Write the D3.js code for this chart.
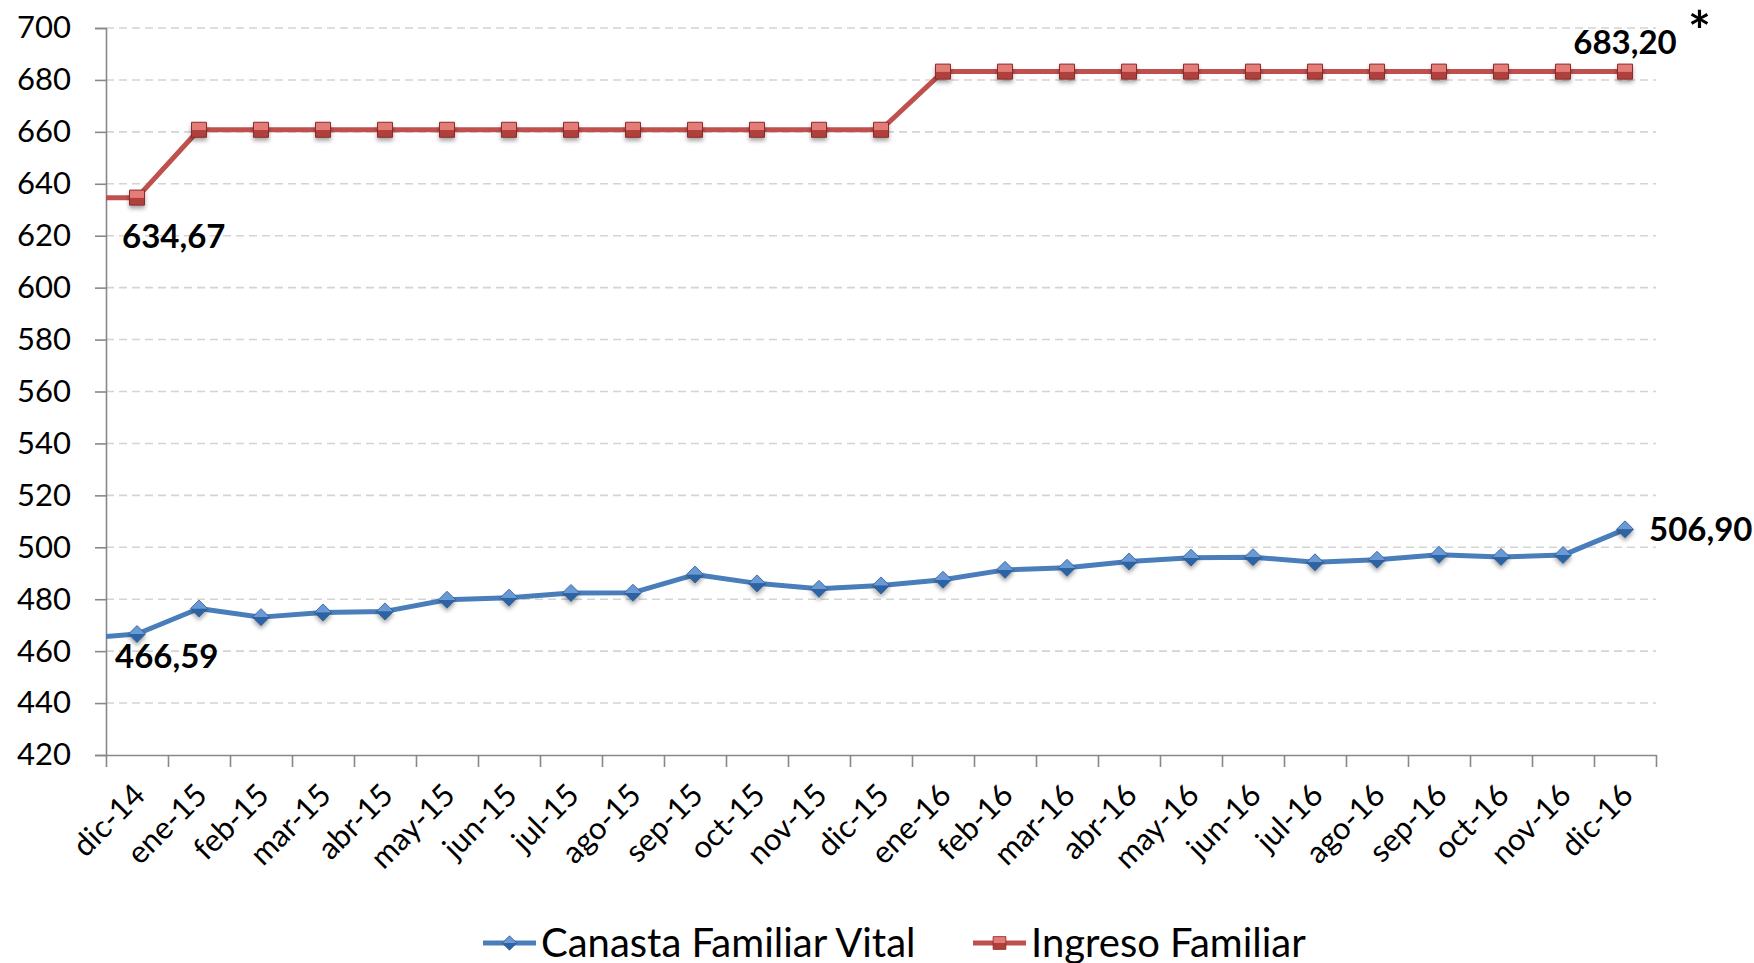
<!DOCTYPE html>
<html>
<head>
<meta charset="utf-8">
<script src="https://cdn.jsdelivr.net/npm/d3@7"></script>
<style>
  html, body { margin: 0; padding: 0; background: #fff; }
  svg { display: block; font-family: Lato, "Open Sans", sans-serif; }
</style>
</head>
<body>
<svg id="chart" width="1754" height="963"></svg>
<script>
// months on the category axis
var months = ["dic-14", "ene-15", "feb-15", "mar-15", "abr-15", "may-15", "jun-15", "jul-15",
    "ago-15", "sep-15", "oct-15", "nov-15", "dic-15", "ene-16", "feb-16", "mar-16", "abr-16",
    "may-16", "jun-16", "jul-16", "ago-16", "sep-16", "oct-16", "nov-16", "dic-16"];

var canasta = [466.59, 476.4, 473.1, 474.9, 475.3, 479.8, 480.6, 482.4, 482.5, 489.5, 486.1, 484.0,
    485.3, 487.5, 491.3, 492.1, 494.5, 496.0, 496.2, 494.2, 495.2, 497.1, 496.3, 497.0, 506.90];

var ingreso = [634.67, 660.80, 660.80, 660.80, 660.80, 660.80, 660.80, 660.80, 660.80, 660.80,
    660.80, 660.80, 660.80, 683.20, 683.20, 683.20, 683.20, 683.20, 683.20, 683.20, 683.20,
    683.20, 683.20, 683.20, 683.20];

// value of the month before dic-14, the line comes in from the left edge
var canastaPrev = 464.7;
var ingresoPrev = 634.67;

var yTicks = [420, 440, 460, 480, 500, 520, 540, 560, 580, 600, 620, 640, 660, 680, 700];
var seriesNames = ["Canasta Familiar Vital", "Ingreso Familiar"];

(function () {
    var svg = d3.select("#chart");
    var plotLeft = 106, plotRight = 1656, plotTop = 28, plotBottom = 755;

    var x = d3.scaleLinear().domain([-0.5, months.length - 0.5]).range([plotLeft, plotRight]);
    var y = d3.scaleLinear().domain([420, 700]).range([plotBottom, plotTop]);

    var locale = d3.formatLocale({decimal: ",", thousands: ".", grouping: [3], currency: ["", ""]});
    var fmt = locale.format(".2f");

    var defs = svg.append("defs");
    defs.append("clipPath").attr("id", "plotclip")
        .append("rect").attr("x", plotLeft).attr("y", 0).attr("width", plotRight - plotLeft).attr("height", 963);

    var shadow = defs.append("filter").attr("id", "shadow")
        .attr("x", "-50%").attr("y", "-50%").attr("width", "200%").attr("height", "220%");
    shadow.append("feDropShadow").attr("dx", 0).attr("dy", 3).attr("stdDeviation", 2)
        .attr("flood-color", "#000").attr("flood-opacity", 0.35);

    function grad(id, c1, c2) {
        var g = defs.append("linearGradient").attr("id", id)
            .attr("x1", 0).attr("y1", 0).attr("x2", 0).attr("y2", 1);
        g.append("stop").attr("offset", "0%").attr("stop-color", c1);
        g.append("stop").attr("offset", "49%").attr("stop-color", c1);
        g.append("stop").attr("offset", "51%").attr("stop-color", c2);
        g.append("stop").attr("offset", "100%").attr("stop-color", c2);
    }
    grad("blueGrad", "#6a9ad6", "#2f63a3");
    grad("redGrad", "#e47b78", "#b03f3b");

    // gridlines
    svg.append("g").selectAll("line").data(yTicks.slice(1)).enter().append("line")
        .attr("x1", plotLeft).attr("x2", plotRight)
        .attr("y1", function(d) { return y(d); }).attr("y2", function(d) { return y(d); })
        .attr("stroke", "#d4d4d4").attr("stroke-width", 1.6).attr("stroke-dasharray", "8,5");

    // y axis
    var yAxis = svg.append("g").attr("transform", "translate(" + plotLeft + ",0)")
        .call(d3.axisLeft(y).tickValues(yTicks).tickSize(11).tickPadding(24));
    yAxis.select(".domain").attr("stroke", "#888").attr("stroke-width", 1.6);
    yAxis.selectAll(".tick line").attr("stroke", "#888").attr("stroke-width", 1.6);
    yAxis.selectAll(".tick text").attr("font-size", 31).attr("fill", "#000")
        .attr("font-family", "Lato");

    // x axis, ticks between categories
    var bounds = d3.range(months.length + 1).map(function(i) { return i - 0.5; });
    var xAxis = svg.append("g").attr("transform", "translate(0," + plotBottom + ")")
        .call(d3.axisBottom(x).tickValues(bounds).tickSize(12).tickSizeOuter(0).tickFormat(""));
    xAxis.select(".domain").attr("stroke", "#888").attr("stroke-width", 1.6);
    xAxis.selectAll(".tick line").attr("stroke", "#888").attr("stroke-width", 1.6);

    svg.append("g").selectAll("text").data(months).enter().append("text")
        .attr("transform", function(d, i) { return "translate(" + (x(i) + 10) + "," + (plotBottom + 42) + ") rotate(-45)"; })
        .attr("text-anchor", "end").attr("font-size", 31).attr("fill", "#000")
        .text(function(d) { return d; });

    // lines
    var line = d3.line().x(function(d) { return x(d.i); }).y(function(d) { return y(d.v); });

    function pts(arr, prev) {
        var out = [{i: -1, v: prev}];
        arr.forEach(function(v, i) { out.push({i: i, v: v}); });
        return out;
    }

    var plot = svg.append("g").attr("clip-path", "url(#plotclip)");
    plot.append("path").attr("d", line(pts(ingreso, ingresoPrev)))
        .attr("fill", "none").attr("stroke", "#c0504d").attr("stroke-width", 5).attr("stroke-linejoin", "round");
    plot.append("path").attr("d", line(pts(canasta, canastaPrev)))
        .attr("fill", "none").attr("stroke", "#4a7ebb").attr("stroke-width", 5).attr("stroke-linejoin", "round");

    var diamond = "M0,-8.5L8.5,0L0,8.5L-8.5,0Z";
    var square = "M-7.5,-7.5H7.5V7.5H-7.5Z";

    svg.append("g").selectAll("path").data(ingreso).enter().append("path")
        .attr("d", square)
        .attr("transform", function(d, i) { return "translate(" + x(i) + "," + y(d) + ")"; })
        .attr("fill", "url(#redGrad)").attr("stroke", "#8c2c29").attr("stroke-width", 1)
        .attr("filter", "url(#shadow)");

    svg.append("g").selectAll("path").data(canasta).enter().append("path")
        .attr("d", diamond)
        .attr("transform", function(d, i) { return "translate(" + x(i) + "," + y(d) + ")"; })
        .attr("fill", "url(#blueGrad)").attr("stroke", "#2a5a94").attr("stroke-width", 0.8)
        .attr("filter", "url(#shadow)");

    // data labels at the first and last month
    var last = months.length - 1;
    var labels = svg.append("g").attr("font-size", 33).attr("font-weight", 700).attr("fill", "#000");
    labels.append("text").attr("x", x(0) - 15).attr("y", y(ingreso[0]) + 50).text(fmt(ingreso[0]));
    labels.append("text").attr("x", x(0) - 22).attr("y", y(canasta[0]) + 34).text(fmt(canasta[0]));
    labels.append("text").attr("x", x(last) + 24).attr("y", y(canasta[last]) + 12).text(fmt(canasta[last]));
    labels.append("text").attr("x", x(last)).attr("y", y(ingreso[last]) - 18)
        .attr("text-anchor", "middle").text(fmt(ingreso[last]));
    labels.append("text").attr("x", x(last) + 63).attr("y", y(ingreso[last]) - 22)
        .attr("font-size", 54).text("*");

    // legend
    var legend = svg.append("g").attr("transform", "translate(0,943)");
    var items = [
        {name: seriesNames[0], x: 483, color: "#4a7ebb", shape: diamond, fill: "url(#blueGrad)", stroke: "#2a5a94"},
        {name: seriesNames[1], x: 973, color: "#c0504d", shape: square, fill: "url(#redGrad)", stroke: "#8c2c29"}
    ];
    items.forEach(function(it) {
        legend.append("line").attr("x1", it.x).attr("x2", it.x + 53).attr("y1", 0).attr("y2", 0)
            .attr("stroke", it.color).attr("stroke-width", 5);
        legend.append("path").attr("d", it.shape)
            .attr("transform", "translate(" + (it.x + 26.5) + ",0) scale(0.85)")
            .attr("fill", it.fill).attr("stroke", it.stroke).attr("stroke-width", 1);
        legend.append("text").attr("x", it.x + 58).attr("y", 14)
            .attr("font-size", 40).attr("fill", "#000").text(it.name);
    });
}());
</script>
</body>
</html>
